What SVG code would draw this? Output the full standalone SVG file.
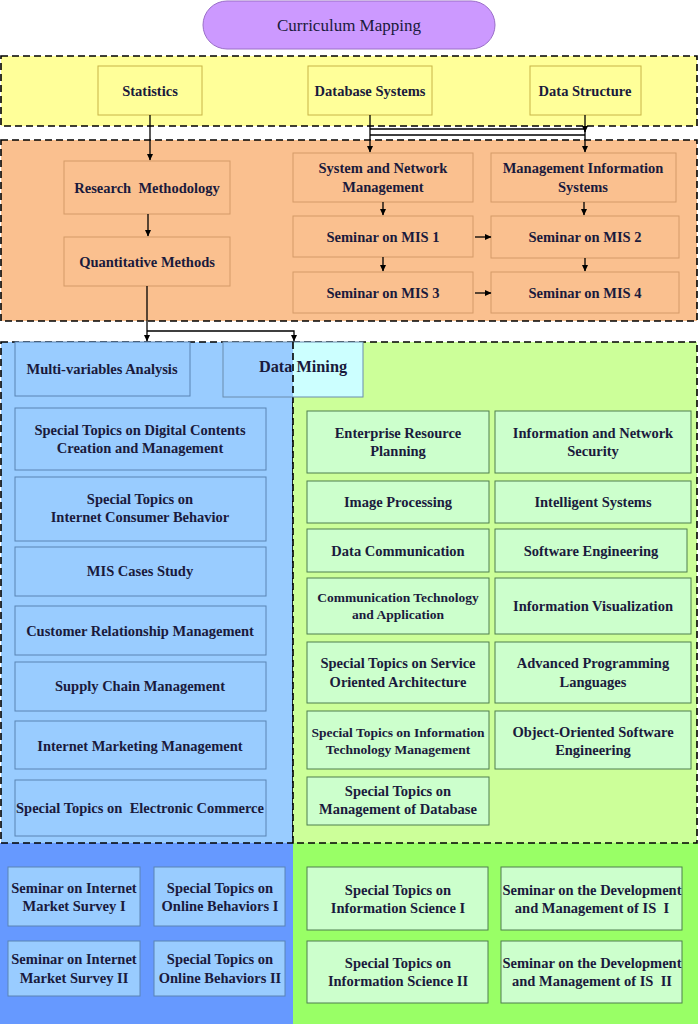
<svg xmlns="http://www.w3.org/2000/svg" width="698" height="1024" viewBox="0 0 698 1024">
<defs>
<style>
.t{font-family:"Liberation Serif","Times New Roman",serif;font-weight:bold;font-size:14.5px;fill:#1a1a3c;text-anchor:middle}
.s{font-size:13.5px}
.band{stroke:#000;stroke-width:1.6;stroke-dasharray:7 4}
.yb{fill:#ffff99;stroke:#c8b448;stroke-width:1}
.ob{fill:#fac08f;stroke:#d49a68;stroke-width:1}
.bb{fill:#99ccff;stroke:#5a84b4;stroke-width:1}
.gb{fill:#ccffcc;stroke:#4f7f4f;stroke-width:1}
.c{fill:none;stroke:#000;stroke-width:1.3}
</style>
<marker id="a" markerWidth="7" markerHeight="7" refX="6" refY="3.5" orient="auto" markerUnits="userSpaceOnUse">
<path d="M0,0.5 L6.5,3.5 L0,6.5 Z" fill="#000"/>
</marker>
</defs>
<rect width="698" height="1024" fill="#fff"/>

<g id="bands">
<rect x="1" y="56" width="696" height="70" fill="#ffff99" class="band"/>
<rect x="1" y="140" width="696" height="181" fill="#fac08f" class="band"/>
<rect x="0" y="843" width="293" height="181" fill="#6699ff"/>
<rect x="293" y="843" width="405" height="181" fill="#99ff66"/>
<rect x="1" y="342" width="292" height="501" fill="#99ccff" class="band"/>
<rect x="293" y="342" width="404" height="501" fill="#ccff99" class="band"/>
</g>

<g id="curriculum">
<rect x="203" y="1" width="292" height="48" rx="24" fill="#cc99ff" stroke="#9a6fc8" stroke-width="1"/>
<text x="349" y="31" class="t" style="font-weight:normal;font-size:17px">Curriculum Mapping</text>
</g>

<g id="statistics"><rect x="98" y="66" width="104" height="49" class="yb"/><text x="150" y="96" class="t">Statistics</text></g>
<g id="database-systems"><rect x="308" y="66" width="124" height="49" class="yb"/><text x="370" y="96" class="t">Database Systems</text></g>
<g id="data-structure"><rect x="530" y="66" width="111" height="49" class="yb"/><text x="585" y="96" class="t">Data Structure</text></g>

<g id="research-methodology"><rect x="64" y="161" width="166" height="53" class="ob"/><text x="147" y="193" class="t">Research&#160; Methodology</text></g>
<g id="quantitative-methods"><rect x="64" y="237" width="166" height="49" class="ob"/><text x="147" y="267" class="t">Quantitative Methods</text></g>
<g id="system-network"><rect x="293" y="153" width="180" height="49" class="ob"/><text class="t"><tspan x="383" y="173">System and Network</tspan><tspan x="383" y="192">Management</tspan></text></g>
<g id="mis"><rect x="491" y="153" width="185" height="49" class="ob"/><text class="t"><tspan x="583" y="173">Management Information</tspan><tspan x="583" y="192">Systems</tspan></text></g>
<g id="seminar-mis1"><rect x="293" y="216" width="180" height="41" class="ob"/><text x="383" y="242" class="t">Seminar on MIS 1</text></g>
<g id="seminar-mis2"><rect x="491" y="216" width="188" height="42" class="ob"/><text x="585" y="242" class="t">Seminar on MIS 2</text></g>
<g id="seminar-mis3"><rect x="293" y="272" width="180" height="41" class="ob"/><text x="383" y="298" class="t">Seminar on MIS 3</text></g>
<g id="seminar-mis4"><rect x="491" y="272" width="188" height="41" class="ob"/><text x="585" y="298" class="t">Seminar on MIS 4</text></g>

<g id="multi-variables"><rect x="15" y="342" width="175" height="54" class="bb"/><text x="102" y="374" class="t">Multi-variables Analysis</text></g>
<g id="data-mining">
<rect x="293" y="342" width="70" height="55" fill="#ccffff"/>
<rect x="223" y="342" width="70" height="55" fill="#99ccff"/>
<rect x="223" y="342" width="140" height="55" fill="none" stroke="#6b8cae" stroke-width="1"/>
<line x1="293" y1="342" x2="293" y2="397" stroke="#000" stroke-width="1.6" stroke-dasharray="7 4"/>
<text x="303" y="372" class="t" style="font-size:16.3px">Data Mining</text>
</g>
<g id="digital-contents"><rect x="15" y="408" width="251" height="62" class="bb"/><text class="t"><tspan x="140" y="435">Special Topics on Digital Contents</tspan><tspan x="140" y="453">Creation and Management</tspan></text></g>
<g id="consumer-behavior"><rect x="15" y="477" width="251" height="64" class="bb"/><text class="t"><tspan x="140" y="504">Special Topics on</tspan><tspan x="140" y="522">Internet Consumer Behavior</tspan></text></g>
<g id="mis-cases"><rect x="15" y="547" width="251" height="49" class="bb"/><text x="140" y="576" class="t">MIS Cases Study</text></g>
<g id="crm"><rect x="15" y="606" width="251" height="49" class="bb"/><text x="140" y="636" class="t">Customer Relationship Management</text></g>
<g id="supply-chain"><rect x="15" y="662" width="251" height="49" class="bb"/><text x="140" y="691" class="t">Supply Chain Management</text></g>
<g id="internet-marketing"><rect x="15" y="721" width="251" height="48" class="bb"/><text x="140" y="751" class="t">Internet Marketing Management</text></g>
<g id="e-commerce"><rect x="15" y="780" width="251" height="56" class="bb"/><text x="140" y="813" class="t" xml:space="preserve">Special Topics on  Electronic Commerce</text></g>

<g id="erp"><rect x="307" y="411" width="182" height="62" class="gb"/><text class="t"><tspan x="398" y="438">Enterprise Resource</tspan><tspan x="398" y="456">Planning</tspan></text></g>
<g id="network-security"><rect x="495" y="411" width="196" height="62" class="gb"/><text class="t"><tspan x="593" y="438">Information and Network</tspan><tspan x="593" y="456">Security</tspan></text></g>
<g id="image-processing"><rect x="307" y="481" width="182" height="42" class="gb"/><text x="398" y="507" class="t">Image Processing</text></g>
<g id="intelligent-systems"><rect x="495" y="481" width="196" height="42" class="gb"/><text x="593" y="507" class="t">Intelligent Systems</text></g>
<g id="data-communication"><rect x="307" y="529" width="182" height="43" class="gb"/><text x="398" y="556" class="t">Data Communication</text></g>
<g id="software-engineering"><rect x="495" y="529" width="192" height="43" class="gb"/><text x="591" y="556" class="t">Software Engineering</text></g>
<g id="comm-tech"><rect x="307" y="578" width="182" height="56" class="gb"/><text class="t s"><tspan x="398" y="602">Communication Technology</tspan><tspan x="398" y="619">and Application</tspan></text></g>
<g id="info-visualization"><rect x="495" y="578" width="196" height="56" class="gb"/><text x="593" y="611" class="t">Information Visualization</text></g>
<g id="soa"><rect x="307" y="642" width="182" height="61" class="gb"/><text class="t"><tspan x="398" y="668">Special Topics on Service</tspan><tspan x="398" y="687">Oriented Architecture</tspan></text></g>
<g id="adv-programming"><rect x="495" y="642" width="196" height="61" class="gb"/><text class="t"><tspan x="593" y="668">Advanced Programming</tspan><tspan x="593" y="687">Languages</tspan></text></g>
<g id="it-management"><rect x="307" y="711" width="182" height="58" class="gb"/><text class="t s"><tspan x="398" y="737">Special Topics on Information</tspan><tspan x="398" y="754">Technology Management</tspan></text></g>
<g id="oo-software"><rect x="495" y="711" width="196" height="58" class="gb"/><text class="t"><tspan x="593" y="737">Object-Oriented Software</tspan><tspan x="593" y="755">Engineering</tspan></text></g>
<g id="mgmt-database"><rect x="307" y="777" width="182" height="48" class="gb"/><text class="t"><tspan x="398" y="796">Special Topics on</tspan><tspan x="398" y="814">Management of Database</tspan></text></g>

<g id="survey-1"><rect x="8" y="867" width="132" height="59" class="bb"/><text class="t"><tspan x="74" y="893">Seminar on Internet</tspan><tspan x="74" y="911">Market Survey I</tspan></text></g>
<g id="online-1"><rect x="154" y="867" width="131" height="59" class="bb"/><text class="t"><tspan x="220" y="893">Special Topics on</tspan><tspan x="220" y="911">Online Behaviors I</tspan></text></g>
<g id="survey-2"><rect x="8" y="941" width="132" height="55" class="bb"/><text class="t"><tspan x="74" y="964">Seminar on Internet</tspan><tspan x="74" y="983">Market Survey II</tspan></text></g>
<g id="online-2"><rect x="154" y="941" width="131" height="55" class="bb"/><text class="t"><tspan x="220" y="964">Special Topics on</tspan><tspan x="220" y="983">Online Behaviors II</tspan></text></g>
<g id="info-science-1"><rect x="307" y="867" width="181" height="63" class="gb"/><text class="t"><tspan x="398" y="895">Special Topics on</tspan><tspan x="398" y="913">Information Science I</tspan></text></g>
<g id="dev-is-1"><rect x="501" y="867" width="181" height="63" class="gb"/><text class="t" xml:space="preserve"><tspan x="592" y="895">Seminar on the Development</tspan><tspan x="592" y="913">and Management of IS  I</tspan></text></g>
<g id="info-science-2"><rect x="307" y="941" width="181" height="62" class="gb"/><text class="t"><tspan x="398" y="968">Special Topics on</tspan><tspan x="398" y="986">Information Science II</tspan></text></g>
<g id="dev-is-2"><rect x="501" y="941" width="181" height="62" class="gb"/><text class="t" xml:space="preserve"><tspan x="592" y="968">Seminar on the Development</tspan><tspan x="592" y="986">and Management of IS  II</tspan></text></g>

<g id="connectors">
<path class="c" d="M150,115 V160" marker-end="url(#a)"/>
<path class="c" d="M370,115 V152" marker-end="url(#a)"/>
<path class="c" d="M585,115 V152" marker-end="url(#a)"/>
<path class="c" d="M370,129 H585 V132" marker-end="url(#a)"/>
<path class="c" d="M370,135 H585"/>
<path class="c" d="M148,214 V236" marker-end="url(#a)"/>
<path class="c" d="M383,202 V215" marker-end="url(#a)"/>
<path class="c" d="M584,202 V215" marker-end="url(#a)"/>
<path class="c" d="M383,257 V271" marker-end="url(#a)"/>
<path class="c" d="M585,258 V271" marker-end="url(#a)"/>
<path class="c" d="M475,237 H491" marker-end="url(#a)"/>
<path class="c" d="M475,293 H491" marker-end="url(#a)"/>
<path class="c" d="M147,286 V341" marker-end="url(#a)"/>
<path class="c" d="M147,331 H294 V341" marker-end="url(#a)"/>
</g>
</svg>
